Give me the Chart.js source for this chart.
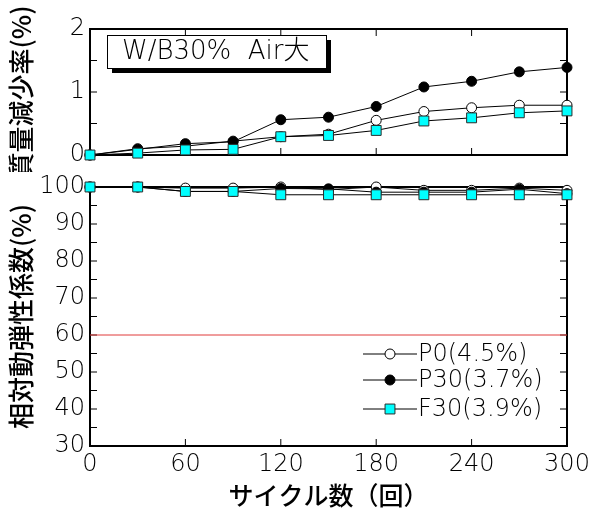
<!DOCTYPE html>
<html>
<head>
<meta charset="utf-8">
<script src="https://cdn.jsdelivr.net/npm/chart.js@4/dist/chart.umd.min.js"></script>
<style>
  html, body { margin: 0; padding: 0; background: #fff; }
  #wrap { position: relative; width: 592px; height: 508px; overflow: hidden; }
  #top-chart { position: absolute; left: 0; top: 0; }
  #bottom-chart { position: absolute; left: 0; top: 170px; }
</style>
</head>
<body>
<div id="wrap">
  <canvas id="top-chart" width="592" height="172"></canvas>
  <canvas id="bottom-chart" width="592" height="338"></canvas>
</div>
<script>
(function () {
  'use strict';

  /* ---------- Data ---------- */
  var CYCLES = [0, 30, 60, 90, 120, 150, 180, 210, 240, 270, 300];
  var SERIES = ['P0(4.5%)', 'P30(3.7%)', 'F30(3.9%)'];

  // 質量減少率 (%)
  var LOSS_P0  = [0, 0.10, 0.14, 0.22, 0.29, 0.33, 0.55, 0.69, 0.75, 0.79, 0.79];
  var LOSS_P30 = [0, 0.09, 0.18, 0.21, 0.56, 0.60, 0.77, 1.08, 1.17, 1.32, 1.39];
  var LOSS_F30 = [0, 0.03, 0.08, 0.09, 0.29, 0.31, 0.39, 0.54, 0.59, 0.67, 0.70];

  // 相対動弾性係数 (%)
  var RDM_P0  = [100, 100, 99.7, 99.7, 100, 99.3, 100, 99.1, 99.1, 99.7, 99.1];
  var RDM_P30 = [100, 100, 98.8, 98.8, 99.6, 99.5, 98.6, 98.6, 98.6, 99.4, 98.2];
  var RDM_F30 = [100, 100, 98.8, 98.8, 97.9, 97.9, 97.9, 97.9, 97.9, 97.9, 97.9];

  var LIMIT = 60;            // 赤線
  var LOSS_RANGE = [0, 2];
  var RDM_RANGE = [30, 100];
  var X_RANGE = [0, 300];

  var BOX_TEXT = 'W/B30%  Air大';
  var X_TITLE = 'サイクル数（回）';
  var Y_TITLE_TOP = '質量減少率(%)';
  var Y_TITLE_BOTTOM = '相対動弾性係数(%)';

  /* ---------- Styles ---------- */
  var NUM_FONT = { family: "'DejaVu Sans', sans-serif", size: 24, weight: 300, lineHeight: 1 };
  var JP_FONT = { family: "'Noto Sans CJK JP', sans-serif", size: 26, weight: 500, lineHeight: 1 };
  var STYLES = [
    { pointStyle: 'circle', radius: 5, bg: '#ffffff', border: '#000000' },
    { pointStyle: 'circle', radius: 5, bg: '#000000', border: '#000000' },
    { pointStyle: 'rect', radius: 7, bg: '#00ffff', border: '#2b2b2b' }
  ];
  var TICK_LEN = 7;

  function pts(ys) {
    return CYCLES.map(function (c, i) { return { x: c, y: ys[i] }; });
  }

  function makeDatasets(lists) {
    return lists.map(function (ys, i) {
      var s = STYLES[i];
      return {
        label: SERIES[i],
        data: pts(ys),
        borderColor: '#000',
        borderWidth: 1,
        pointStyle: s.pointStyle,
        pointRadius: s.radius,
        pointBackgroundColor: s.bg,
        pointBorderColor: s.border,
        pointBorderWidth: 1,
        clip: false,
        order: 3 - i
      };
    });
  }

  /* ---------- Plugins ---------- */
  var framePlugin = {
    id: 'frame',
    beforeDatasetsDraw: function (chart) {
      var ctx = chart.ctx, a = chart.chartArea;
      var xs = chart.scales.x, ys = chart.scales.y;
      ctx.save();
      ctx.strokeStyle = '#000';
      ctx.lineWidth = 1;
      ctx.beginPath();
      xs.ticks.forEach(function (t) {
        var px = xs.getPixelForValue(t.value);
        if (px <= a.left + 1 || px >= a.right - 1) return;
        ctx.moveTo(px, a.bottom); ctx.lineTo(px, a.bottom - TICK_LEN);
        ctx.moveTo(px, a.top); ctx.lineTo(px, a.top + TICK_LEN);
      });
      ys.ticks.forEach(function (t) {
        var py = ys.getPixelForValue(t.value);
        if (py <= a.top + 1 || py >= a.bottom - 1) return;
        ctx.moveTo(a.left, py); ctx.lineTo(a.left + TICK_LEN, py);
        ctx.moveTo(a.right, py); ctx.lineTo(a.right - TICK_LEN, py);
      });
      ctx.stroke();
      ctx.lineWidth = 2;
      ctx.strokeRect(a.left, a.top, a.right - a.left, a.bottom - a.top);
      ctx.restore();
    }
  };

  var boxPlugin = {
    id: 'labelBox',
    afterDatasetsDraw: function (chart) {
      var ctx = chart.ctx, a = chart.chartArea;
      var x = a.left + 17, y = a.top + 6, w = 219, h = 33;
      ctx.save();
      ctx.fillStyle = '#000';
      ctx.fillRect(x + 5, y + 5, w, h);
      ctx.fillStyle = '#fff';
      ctx.fillRect(x, y, w, h);
      ctx.strokeStyle = '#000';
      ctx.lineWidth = 1;
      ctx.strokeRect(x + 0.5, y + 0.5, w, h);
      ctx.fillStyle = '#000';
      ctx.font = "300 26px 'DejaVu Sans', 'Noto Sans CJK JP', sans-serif";
      ctx.textBaseline = 'middle';
      ctx.fillText(BOX_TEXT, x + 15, y + h / 2 + 1);
      ctx.restore();
    }
  };

  function drawMarker(ctx, s, cx, cy) {
    ctx.fillStyle = s.bg;
    ctx.strokeStyle = s.border;
    ctx.lineWidth = 1;
    ctx.beginPath();
    if (s.pointStyle === 'rect') {
      var half = s.radius * Math.SQRT1_2;
      ctx.rect(cx - half, cy - half, half * 2, half * 2);
    } else {
      ctx.arc(cx, cy, s.radius, 0, Math.PI * 2);
    }
    ctx.fill();
    ctx.stroke();
  }

  var legendPlugin = {
    id: 'lineLegend',
    afterDatasetsDraw: function (chart) {
      var ctx = chart.ctx, a = chart.chartArea;
      var x0 = a.right - 204, x1 = a.right - 150, mx = a.right - 177;
      var rowY = [a.top + 167, a.top + 193, a.top + 222];
      ctx.save();
      ctx.font = "300 24px 'DejaVu Sans', sans-serif";
      ctx.textBaseline = 'middle';
      SERIES.forEach(function (name, i) {
        var y = rowY[i];
        ctx.strokeStyle = '#000';
        ctx.lineWidth = 1;
        ctx.beginPath();
        ctx.moveTo(x0, y); ctx.lineTo(x1, y);
        ctx.stroke();
        drawMarker(ctx, STYLES[i], mx, y);
        ctx.fillStyle = '#000';
        ctx.fillText(name, x1 + 1, y + 1);
      });
      ctx.restore();
    }
  };

  /* ---------- Charts ---------- */
  function yAxis(range, step, title, labelEvery) {
    return {
      type: 'linear',
      min: range[0], max: range[1],
      afterFit: function (s) { s.width = 90; },
      grid: { display: false, drawTicks: false },
      border: { display: false },
      ticks: {
        stepSize: step, autoSkip: false, padding: 5, color: '#000', font: NUM_FONT,
        callback: function (v) { return Math.abs(v / labelEvery - Math.round(v / labelEvery)) < 1e-6 ? v : ''; }
      },
      title: { display: true, text: title, color: '#000', font: JP_FONT, padding: { top: 8, bottom: 0 } }
    };
  }

  function noSidePad(s) { s.paddingLeft = 0; s.paddingRight = 0; }

  new Chart(document.getElementById('top-chart'), {
    type: 'line',
    data: { datasets: makeDatasets([LOSS_P0, LOSS_P30, LOSS_F30]) },
    options: {
      responsive: false,
      animation: false,
      layout: { padding: { left: 0, right: 25, top: 29, bottom: 13 } },
      plugins: { legend: { display: false }, tooltip: { enabled: false } },
      scales: {
        x: {
          type: 'linear', min: X_RANGE[0], max: X_RANGE[1],
          afterFit: function (s) { s.height = 0; noSidePad(s); },
          grid: { display: false, drawTicks: false },
          border: { display: false },
          ticks: { stepSize: 60, display: false }
        },
        y: yAxis(LOSS_RANGE, 0.5, Y_TITLE_TOP, 1)
      }
    },
    plugins: [framePlugin, boxPlugin]
  });

  var rdmSets = makeDatasets([RDM_P0, RDM_P30, RDM_F30]);
  rdmSets.push({
    label: 'limit',
    data: [{ x: X_RANGE[0], y: LIMIT }, { x: X_RANGE[1], y: LIMIT }],
    borderColor: '#e03a3a',
    borderWidth: 1,
    pointRadius: 0,
    order: 10
  });

  new Chart(document.getElementById('bottom-chart'), {
    type: 'line',
    data: { datasets: rdmSets },
    options: {
      responsive: false,
      animation: false,
      layout: { padding: { left: 0, right: 25, top: 15, bottom: 0 } },
      plugins: { legend: { display: false }, tooltip: { enabled: false } },
      scales: {
        x: {
          type: 'linear', min: X_RANGE[0], max: X_RANGE[1],
          afterFit: function (s) { s.height = 62; noSidePad(s); },
          grid: { display: false, drawTicks: false },
          border: { display: false },
          ticks: { stepSize: 60, autoSkip: false, maxRotation: 0, padding: 7, color: '#000', font: NUM_FONT },
          title: { display: true, text: X_TITLE, color: '#000', font: { family: JP_FONT.family, size: 25, weight: 500, lineHeight: 1 }, padding: { top: 0, bottom: 0 } }
        },
        y: yAxis(RDM_RANGE, 5, Y_TITLE_BOTTOM, 10)
      }
    },
    plugins: [framePlugin, legendPlugin]
  });
})();
</script>
</body>
</html>
